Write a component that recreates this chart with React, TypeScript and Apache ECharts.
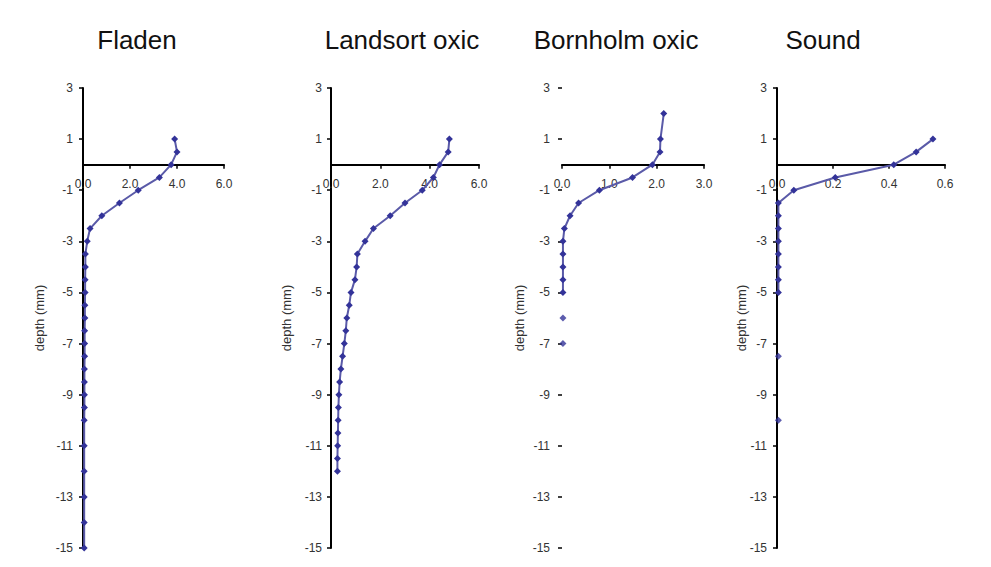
import React, { useEffect, useRef } from "react";
import * as echarts from "echarts";

const panelTitles = ["Fladen", "Landsort oxic", "Bornholm oxic", "Sound"];
const yAxisName = "depth (mm)";
const xMaxes = [6, 6, 3, 0.6];
const xIntervals = [2, 2, 1, 0.2];

const fladenDepth = [1, 0.5, 0, -0.5, -1, -1.5, -2, -2.5, -3, -3.5, -4, -4.5, -5, -5.5, -6, -6.5, -7, -7.5, -8, -8.5, -9, -9.5, -10, -11, -12, -13, -14, -15];
const fladenValue = [3.9, 4.0, 3.75, 3.25, 2.35, 1.55, 0.8, 0.3, 0.18, 0.1, 0.1, 0.09, 0.09, 0.08, 0.08, 0.07, 0.07, 0.07, 0.06, 0.06, 0.06, 0.06, 0.05, 0.05, 0.05, 0.05, 0.05, 0.05];

const landsortDepth = [1, 0.5, 0, -0.5, -1, -1.5, -2, -2.5, -3, -3.5, -4, -4.5, -5, -5.5, -6, -6.5, -7, -7.5, -8, -8.5, -9, -9.5, -10, -10.5, -11, -11.5, -12];
const landsortValue = [4.8, 4.75, 4.4, 4.15, 3.7, 3.0, 2.4, 1.72, 1.38, 1.07, 1.04, 0.97, 0.81, 0.74, 0.64, 0.6, 0.54, 0.47, 0.4, 0.35, 0.32, 0.3, 0.29, 0.28, 0.27, 0.26, 0.26];

const bornholmDepth = [2, 1, 0.5, 0, -0.5, -1, -1.5, -2, -2.5, -3, -3.5, -4, -4.5, -5];
const bornholmValue = [2.15, 2.08, 2.07, 1.91, 1.49, 0.79, 0.35, 0.17, 0.05, 0.02, 0.02, 0.02, 0.02, 0.02];
const bornholmLooseDepth = [-6, -7];
const bornholmLooseValue = [0.02, 0.02];

const soundDepth = [1, 0.5, 0, -0.5, -1, -1.5, -2, -2.5, -3, -3.5, -4, -4.5, -5];
const soundValue = [0.557, 0.497, 0.417, 0.208, 0.06, 0.005, 0.005, 0.005, 0.005, 0.005, 0.005, 0.005, 0.005];
const soundLooseDepth = [-7.5, -10];
const soundLooseValue = [0.005, 0.005];

const pair = (xs: number[], ys: number[]) => xs.map((x, i) => [x, ys[i]]);

export default function App() {
  const ref = useRef<HTMLDivElement>(null);
  useEffect(() => {
    if (!ref.current) return;
    const chart = echarts.init(ref.current, null, { renderer: "svg" });
    const gridTop = 88;
    const gridHeight = 460;
    const yMin = -15;
    const yMax = 3;
    const grids = [
      { left: 83, top: gridTop, width: 141, height: gridHeight },
      { left: 331, top: gridTop, width: 148, height: gridHeight },
      { left: 562, top: gridTop, width: 142, height: gridHeight },
      { left: 777, top: gridTop, width: 168, height: gridHeight },
    ];
    // distance from the grid's bottom edge up to depth 0, so the x axis sits at depth 0
    const zeroOffset = -((0 - yMin) / (yMax - yMin)) * gridHeight;
    const nameGaps = [37, 38, 36, 29];
    const labelMargins = [10, 9, 12, 10];
    const font = "Liberation Sans";
    const xAxis = grids.map((_, i) => ({
      type: "value",
      gridIndex: i,
      position: "bottom",
      offset: zeroOffset,
      min: 0,
      max: xMaxes[i],
      interval: xIntervals[i],
      splitLine: { show: false },
      axisLine: { show: true, onZero: false, lineStyle: { color: "#000", width: 2 } },
      axisTick: { show: true, length: 4, lineStyle: { color: "#000", width: 1.5 } },
      axisLabel: {
        margin: 13,
        fontSize: 12,
        fontFamily: font,
        color: "#333",
        showMinLabel: true,
        showMaxLabel: true,
        formatter: (v: number) => v.toFixed(1),
      },
    }));
    const yAxis = grids.map((_, i) => ({
      type: "value",
      gridIndex: i,
      min: yMin,
      max: yMax,
      interval: 2,
      name: yAxisName,
      nameLocation: "middle",
      nameGap: nameGaps[i],
      nameMoveOverlap: false,
      nameTextStyle: { fontSize: 13, fontFamily: font, color: "#333" },
      splitLine: { show: false },
      axisLine: { show: i !== 2, onZero: false, lineStyle: { color: "#000", width: 2 } },
      axisTick: { show: true, length: 4, lineStyle: { color: "#000", width: 1.5 } },
      axisLabel: {
        margin: labelMargins[i],
        fontSize: 12,
        fontFamily: font,
        color: "#333",
        showMinLabel: true,
        showMaxLabel: true,
      },
    }));
    const lineSeries = (i: number, data: number[][]) => ({
      type: "line",
      xAxisIndex: i,
      yAxisIndex: i,
      data,
      symbol: "diamond",
      symbolSize: 7,
      itemStyle: { color: "#333399" },
      lineStyle: { color: "#5a5aa8", width: 2 },
      z: 5,
    });
    const looseSeries = (i: number, data: number[][]) => ({
      type: "scatter",
      xAxisIndex: i,
      yAxisIndex: i,
      data,
      symbol: "diamond",
      symbolSize: 7,
      itemStyle: { color: "#333399" },
      z: 5,
    });
    const titleX = [137, 402, 616, 823];
    chart.setOption({
      animation: false,
      backgroundColor: "#fff",
      grid: grids,
      xAxis,
      yAxis,
      series: [
        lineSeries(0, pair(fladenValue, fladenDepth)),
        lineSeries(1, pair(landsortValue, landsortDepth)),
        lineSeries(2, pair(bornholmValue, bornholmDepth)),
        looseSeries(2, pair(bornholmLooseValue, bornholmLooseDepth)),
        lineSeries(3, pair(soundValue, soundDepth)),
        looseSeries(3, pair(soundLooseValue, soundLooseDepth)),
      ],
      graphic: panelTitles.map((t, i) => ({
        type: "text",
        x: titleX[i],
        y: 40,
        style: {
          text: t,
          fontSize: 26,
          fontFamily: font,
          fill: "#111",
          textAlign: "center",
          textVerticalAlign: "middle",
        },
      })),
    });
    return () => chart.dispose();
  }, []);
  return (
    <div
      ref={ref}
      style={{ position: "fixed", left: 0, top: 0, width: 991, height: 567, background: "#fff" }}
    />
  );
}
